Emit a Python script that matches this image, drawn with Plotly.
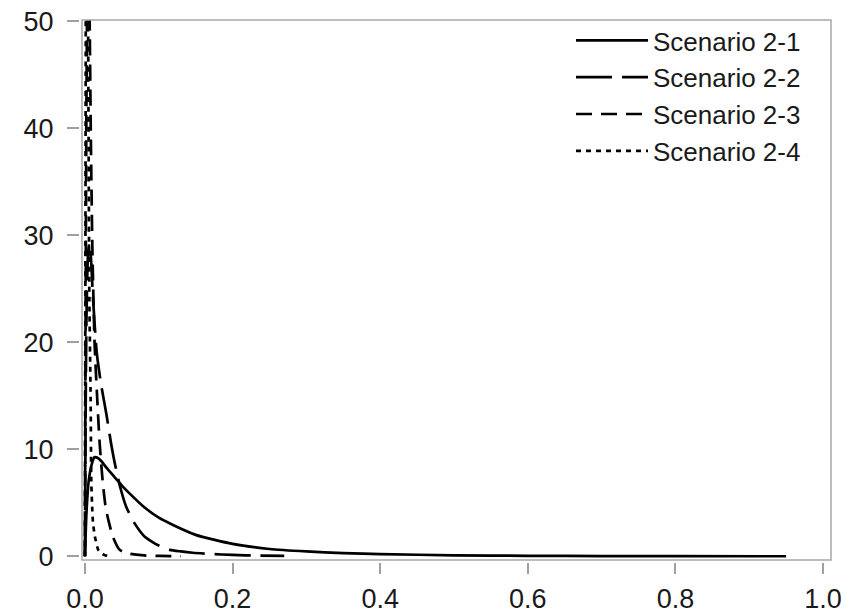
import plotly.graph_objects as go

# ---- data ----
names = ["Scenario 2-1", "Scenario 2-2", "Scenario 2-3", "Scenario 2-4"]

x21 = [0, 0.002, 0.005, 0.01, 0.013, 0.017, 0.022, 0.03, 0.04, 0.05, 0.06, 0.08, 0.10,
       0.12, 0.15, 0.2, 0.25, 0.3, 0.35, 0.4, 0.5, 0.6, 0.7, 0.8, 0.95]
y21 = [0, 4.0, 7.0, 8.8, 9.25, 9.2, 8.9, 8.2, 7.4, 6.6, 5.9, 4.6, 3.6,
       2.9, 2.0, 1.15, 0.68, 0.45, 0.3, 0.2, 0.09, 0.04, 0.02, 0.01, 0.0]

x22 = [0, 0.0008, 0.002, 0.004, 0.006, 0.008, 0.011, 0.016, 0.022, 0.029, 0.035, 0.041,
       0.048, 0.056, 0.068, 0.08, 0.09, 0.10, 0.115, 0.13, 0.146, 0.17, 0.2, 0.235, 0.27]
y22 = [0, 12, 22, 28, 29.3, 28, 24, 19, 16, 13.3, 10.7, 8.5,
       6.4, 4.6, 3.0, 1.9, 1.4, 1.0, 0.6, 0.45, 0.33, 0.22, 0.12, 0.06, 0.03]

x23 = [0, 0.0008, 0.002, 0.004, 0.006, 0.008, 0.010, 0.013, 0.0167, 0.020, 0.024, 0.028,
       0.032, 0.038, 0.047, 0.06, 0.08, 0.10, 0.13]
y23 = [0, 20, 42, 58, 52, 39, 29, 20, 14.6, 10.5, 7.0, 4.6,
       3.3, 1.8, 0.6, 0.25, 0.08, 0.03, 0.0]

x24 = [0, 0.001, 0.002, 0.003, 0.004, 0.005, 0.006, 0.0077, 0.0086, 0.01, 0.011, 0.0136,
       0.018, 0.022, 0.027, 0.035]
y24 = [0, 45, 85, 78, 55, 38, 24, 14.6, 7.0, 4.2, 3.05, 1.8,
       0.6, 0.3, 0.1, 0.0]

xs = [x21, x22, x23, x24]
ys = [y21, y22, y23, y24]
dashes = ["solid", "36px,10px", "16px,9px", "5px,5px"]

x_ticks = [0.0, 0.2, 0.4, 0.6, 0.8, 1.0]
y_ticks = [0, 10, 20, 30, 40, 50]

FONT = "Liberation Sans, Arial, sans-serif"

fig = go.Figure()
for n, xv, yv, d in zip(names, xs, ys, dashes):
    fig.add_trace(go.Scatter(x=xv, y=yv, mode="lines", name=n,
                             line=dict(color="black", width=2.7, dash=d, shape="spline", smoothing=0.6)))

W, H = 855, 614
ml, mr, mt, mb = 79, 24, 20, 52
pw = W - ml - mr
ph = H - mt - mb

axis_common = dict(showgrid=False, zeroline=False, showline=False, ticks="outside",
                   tickcolor="#a0a0a0", tickwidth=1.5, automargin=False,
                   tickfont=dict(family=FONT, size=27, color="#1a1a1a"),
                   anchor="free", position=0)

fig.update_layout(
    width=W, height=H,
    margin=dict(l=ml, r=mr, t=mt, b=mb, autoexpand=False),
    paper_bgcolor="white", plot_bgcolor="white",
    font=dict(family=FONT, size=27, color="#1a1a1a"),
    xaxis=dict(domain=[3 / pw, 1], range=[-0.004, 1.0108], tickvals=x_ticks,
               tickformat=".1f", ticklen=11, ticklabelstandoff=2, **axis_common),
    yaxis=dict(domain=[2 / ph, 1], range=[-0.35, 50.1], tickvals=y_ticks,
               ticklen=12, ticklabelstandoff=8, **axis_common),
    showlegend=True,
    legend=dict(x=(571 - ml) / pw, y=1.0 + 3 / ph, xanchor="left", yanchor="top",
                bgcolor="rgba(0,0,0,0)",
                font=dict(family=FONT, size=26, color="#1a1a1a"), itemwidth=72,
                tracegroupgap=0),
    shapes=[dict(type="rect", xref="x domain", yref="y domain", x0=0, x1=1, y0=0, y1=1,
                 line=dict(color="#a8a8a8", width=1.5), layer="above")],
)

fig.write_html("out.html", config={"displayModeBar": False},
               post_script="document.body.style.margin='0';document.body.style.overflow='hidden';")
